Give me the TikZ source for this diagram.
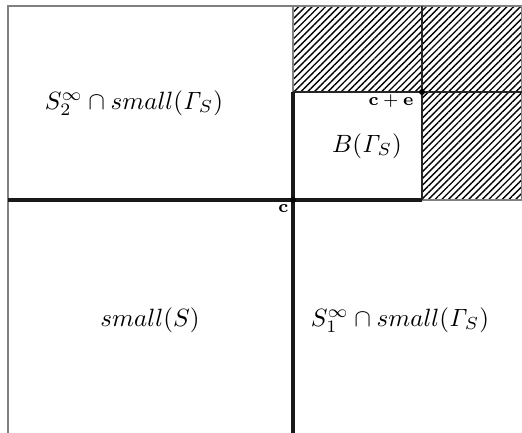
\documentclass[tikz,border=0pt]{standalone}
\usetikzlibrary{patterns.meta}
\begin{document}
\begin{tikzpicture}[x=0.4pt,y=-0.4pt,
  frame/.style={draw=black!50,line width=0.8pt},
  thickline/.style={draw=black!90,line width=1.3pt},
  thinline/.style={draw=black!85,line width=0.7pt},
  hatch/.style={pattern={Lines[angle=45,distance=1.9pt,line width=0.55pt]},pattern color=black,draw=black!50,line width=0.8pt},
  dot/.style={circle,fill=black,inner sep=0pt,minimum size=2.4pt},
  lbl/.style={inner sep=0pt},
  pt/.style={inner sep=0pt,font=\scriptsize}]
\useasboundingbox (0,0) rectangle (522,433);
% corner coordinates
\coordinate (tl) at (8,6);
\coordinate (bl) at (8,433);
\coordinate (tr) at (522,6);
\coordinate (lm) at (8,200);
\coordinate (tm) at (293,6);
\coordinate (tce) at (422,6);
\coordinate (bot) at (293,433);
\coordinate (rm) at (522,92);
\coordinate (rb) at (522,200);
\coordinate (bx) at (293,92);
\coordinate (be) at (422,200);
\coordinate (cc) at (293,200);
\coordinate (cce) at (422,92);
% hatched regions
\path[hatch] (tm) rectangle (cce);
\path[hatch] (tce) rectangle (rm);
\path[hatch] (cce) rectangle (rb);
% outer frame
\draw[frame] (bl) -- (tl) -- (tr);
\draw[frame] (tm) -- (bx);
% B box
\draw[thinline] (bx) -- (cce) -- (rm);
\draw[thinline] (tce) -- (be);
\draw[thickline] (lm) -- (be);
\draw[thickline] (bx) -- (bot);
% points
\node[dot] (c) at (cc) {};
\node[dot] (ce) at (cce) {};
\node[pt,anchor=base east] (clbl) at (289,213) {$\mathbf{c}$};
\node[pt,anchor=base east] (celbl) at (414,106) {$\mathbf{c}+\mathbf{e}$};
% labels
\node[lbl] (s2) at (134,103) {$S_2^\infty\cap small(\mathit{\Gamma}_S)$};
\node[lbl] (b) at (367,146) {$B(\mathit{\Gamma}_S)$};
\node[lbl] (sm) at (150,320) {$small(S)$};
\node[lbl] (s1) at (400,320) {$S_1^\infty\cap small(\mathit{\Gamma}_S)$};
\end{tikzpicture}
\end{document}
